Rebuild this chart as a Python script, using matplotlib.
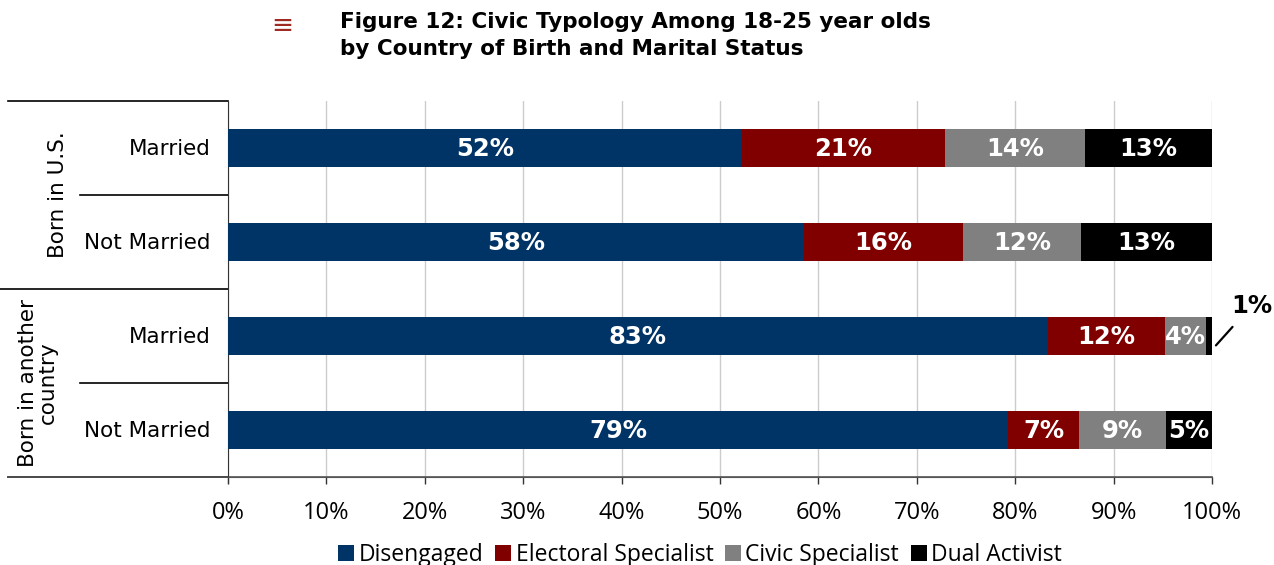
import numpy as np
import matplotlib.pyplot as plt
from matplotlib.patches import Patch

# shares per row, top to bottom
rows = ['Married', 'Not Married', 'Married', 'Not Married']
groups = ['Born in U.S.', 'Born in another\ncountry']
disengaged = [52.2, 58.5, 83.3, 79.3]
electoral = [20.7, 16.2, 11.9, 7.2]
civic = [14.2, 12.0, 4.2, 8.8]
dual = [12.9, 13.3, 0.6, 4.7]
series = ['Disengaged', 'Electoral Specialist', 'Civic Specialist', 'Dual Activist']
xticks = [0, 10, 20, 30, 40, 50, 60, 70, 80, 90, 100]

colours = ['#003366', '#800000', '#808080', '#000000']

fig = plt.figure(figsize=(12.74, 5.65), dpi=100)
ax = fig.add_axes([228/1274, 1-477/565, 984/1274, 376/565])

ypos = np.arange(len(rows))
left = np.zeros(len(rows))
for name, vals, col in zip(series, [disengaged, electoral, civic, dual], colours):
    vals = np.array(vals)
    ax.barh(ypos, vals, left=left, height=0.40, color=col, label=name, zorder=3)
    for y, l, v in zip(ypos, left, vals):
        if v >= 2:
            ax.text(l + v/2, y + 0.01, f'{round(v)}%', ha='center', va='center',
                    color='white', fontsize=17.5, fontweight='bold', zorder=4)
    left += vals

# tiny dual-activist slice gets a callout
ax.annotate(f'{round(dual[2])}%', xy=(100.4, 2.1), xytext=(104.0, 1.68),
            ha='center', va='center', fontsize=17.5, fontweight='bold',
            arrowprops=dict(arrowstyle='-', color='black', lw=1.6,
                            shrinkA=6, shrinkB=0),
            annotation_clip=False)

ax.set_xlim(0, 100)
ax.set_ylim(3.5, -0.5)
ax.set_xticks(xticks)
ax.set_xticklabels([f'{t}%' for t in xticks], fontsize=17, family='Open Sans')
ax.set_yticks([])
ax.grid(axis='x', color='#cccccc', lw=1, zorder=0)
for s in ['top', 'right']:
    ax.spines[s].set_visible(False)
ax.spines['left'].set_color('#333333')
ax.spines['left'].set_bounds(-0.5, 3.56)
ax.spines['bottom'].set_color('#555555')
ax.tick_params(axis='x', direction='out', length=5, width=1, color='#333333', pad=12)

# row labels and bracket lines on the left
trans = ax.get_yaxis_transform()
for y, lab in zip(ypos, rows):
    ax.text(-0.018, y + 0.01, lab, transform=trans, ha='right', va='center', fontsize=15.5)
for y, x0 in [(-0.5, -0.2236), (0.5, -0.150), (1.5, -0.2317), (2.5, -0.150), (3.5, -0.2236)]:
    ax.plot([x0, 0], [y, y], transform=trans, color='black', lw=1.2, clip_on=False)
ax.plot([-0.2236, 1.0], [3.5, 3.5], transform=trans, color='#555555', lw=1.2, clip_on=False)

ax.text(-0.173, 0.5, groups[0], transform=trans, rotation=90, ha='center', va='center', fontsize=15.5)
ax.text(-0.193, 2.5, groups[1], transform=trans, rotation=90, ha='center', va='center',
        fontsize=15.5, linespacing=1.0)

# title with menu glyph
fig.text(340/1274, 1-12/565, 'Figure 12: Civic Typology Among 18-25 year olds\nby Country of Birth and Marital Status',
         ha='left', va='top', fontsize=15.5, fontweight='bold', linespacing=1.45)
fig.text(282/1274, 1-26/565, '≡', ha='center', va='center', fontsize=19, color='#9e2a24')

handles = [Patch(facecolor=c, edgecolor='none', label=n) for n, c in zip(series, colours)]
fig.legend(handles=handles, loc='center', bbox_to_anchor=(700/1274, 1-555/565), ncol=4,
           frameon=False, prop={'family': 'Open Sans', 'size': 16.5}, handlelength=0.7,
           handleheight=0.7, handletextpad=0.2, columnspacing=0.5, borderpad=0)

fig.savefig('out.png', dpi=100, facecolor='white')
